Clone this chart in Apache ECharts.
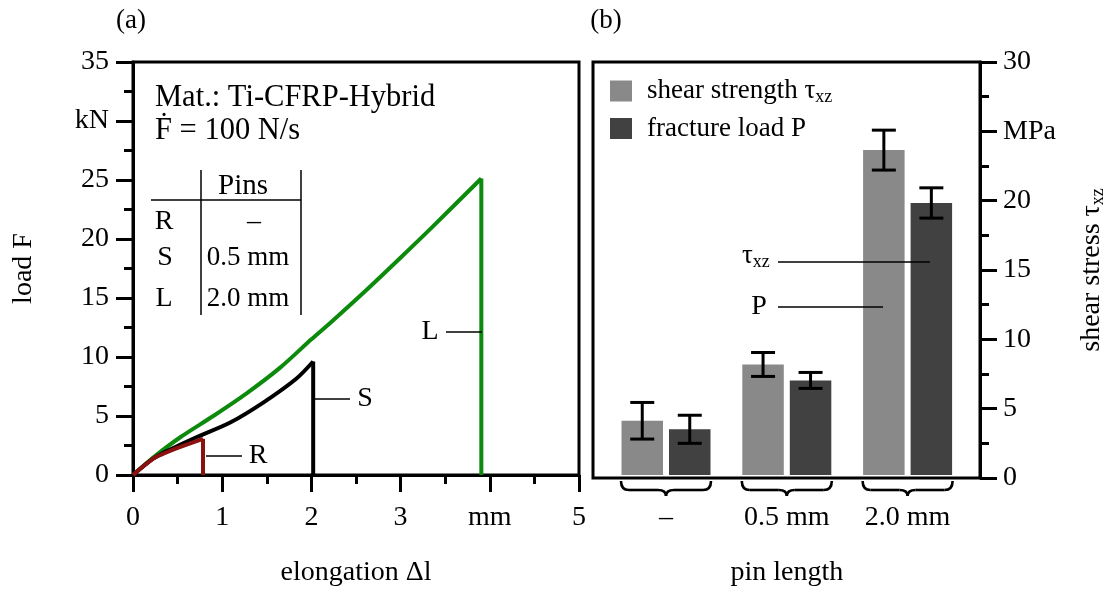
<!DOCTYPE html>
<html><head><meta charset="utf-8">
<script src="https://cdn.jsdelivr.net/npm/echarts@6/dist/echarts.min.js"></script>
<style>html,body{margin:0;padding:0;background:#fff}#c{width:1108px;height:592px}</style>
</head><body><div id="c"></div>
<script>
const FONT = 'Liberation Serif';
// ---- panel (a): load F [kN] vs elongation [mm]; last point of each curve = fracture drop
const curveL = [[0,0],[0.23,1.5],[0.53,3.2],[0.9,5.0],[1.27,6.9],[1.65,9.1],[2.0,11.5],[2.22,12.95],[2.62,15.7],[2.99,18.35],[3.36,21.05],[3.905,25.13],[3.905,0]];
const curveS = [[0,0],[0.23,1.4],[0.4,2.1],[0.71,3.2],[1.09,4.45],[1.46,6.14],[1.83,8.16],[2.02,9.62],[2.02,0]];
const curveR = [[0,0],[0.23,1.4],[0.34,1.8],[0.5,2.3],[0.785,3.07],[0.785,0]];
const xTickLabelsA = {4:'mm'};
const yTickLabelsA = {30:'kN'};
// ---- panel (b): bars
const categories = ['–','0.5 mm','2.0 mm'];
const shearStrength = [3.94, 8.03, 23.6];
const shearErr = [1.33, 0.87, 1.45];
const fractureLoad = [3.32, 6.87, 19.76];
const fractureErr = [1.02, 0.58, 1.1];
const yTickLabelsB = {25:'MPa'};

const BAR_W = 41.5, BAR_GAP = 6;
const txtBase = {fontFamily: FONT, fill: '#000'};

function txt(x, y, text, size, align, rich) {
  const st = Object.assign({}, txtBase, {text: text, fontSize: size, align: align || 'center', verticalAlign: 'middle'});
  if (rich) st.rich = rich;
  return {type: 'text', x: x, y: y, style: st, z: 100};
}
function ln(x1, y1, x2, y2, w) {
  return {type: 'line', shape: {x1, y1, x2, y2}, style: {stroke: '#000', lineWidth: w || 1.5}, z: 100};
}
const subRich = {
  a: {fontFamily: FONT, fontSize: 27, color: '#000', lineHeight: 26},
  s: {fontFamily: FONT, fontSize: 18, color: '#000', lineHeight: 16, padding: [12, 0, 0, 0]}
};

const axisCommon = {
  axisLine: {show: true, onZero: false, lineStyle: {color: '#000', width: 3}},
  axisTick: {show: true, inside: false, length: 17, lineStyle: {color: '#000', width: 3}},
  minorTick: {show: true, splitNumber: 2, length: 9, lineStyle: {color: '#000', width: 3}},
  splitLine: {show: false},
  minorSplitLine: {show: false}
};
const hiddenAxis = {
  show: false, axisLine: {show: false, onZero: false}, axisTick: {show: false}, minorTick: {show: false},
  axisLabel: {show: false}, splitLine: {show: false}, minorSplitLine: {show: false}
};

function errRender(side) {
  return function (params, api) {
    const i = api.value(0);
    const lo = api.coord([i, api.value(1)]);
    const hi = api.coord([i, api.value(2)]);
    const x = lo[0] + side * (BAR_W + BAR_GAP) / 2;
    const c = 12;
    const st = {stroke: '#000', lineWidth: 3};
    return {type: 'group', children: [
      {type: 'line', shape: {x1: x, y1: hi[1], x2: x, y2: lo[1]}, style: st},
      {type: 'line', shape: {x1: x - c, y1: hi[1], x2: x + c, y2: hi[1]}, style: st},
      {type: 'line', shape: {x1: x - c, y1: lo[1], x2: x + c, y2: lo[1]}, style: st}
    ]};
  };
}
function braceRender(params, api) {
  const p = api.coord([api.value(0), 0]);
  const cx = p[0], y0 = p[1] + 6, y1 = p[1] + 15, y2 = p[1] + 21;
  const hw = 45, r = 8;
  const xl = cx - hw, xr = cx + hw;
  const st = {stroke: '#000', lineWidth: 2.6, fill: null};
  return {type: 'group', children: [
    {type: 'bezierCurve', shape: {x1: xl, y1: y0, x2: xl + r, y2: y1, cpx1: xl, cpy1: y1}, style: st},
    {type: 'line', shape: {x1: xl + r, y1: y1, x2: cx - r, y2: y1}, style: st},
    {type: 'bezierCurve', shape: {x1: cx - r, y1: y1, x2: cx, y2: y2, cpx1: cx, cpy1: y1}, style: st},
    {type: 'bezierCurve', shape: {x1: cx, y1: y2, x2: cx + r, y2: y1, cpx1: cx, cpy1: y1}, style: st},
    {type: 'line', shape: {x1: cx + r, y1: y1, x2: xr - r, y2: y1}, style: st},
    {type: 'bezierCurve', shape: {x1: xr - r, y1: y1, x2: xr, y2: y0, cpx1: xr, cpy1: y1}, style: st}
  ]};
}

const labelStyle = {color: '#000', fontFamily: FONT, fontSize: 28};
const nameStyle = {color: '#000', fontFamily: FONT, fontSize: 28};

function curveSeries(name, data, color, z) {
  // smooth loading part + straight vertical fracture drop (both from the same array)
  const n = data.length;
  return [
    {name: name, type: 'line', xAxisIndex: 0, yAxisIndex: 0, data: data.slice(0, n - 1), smooth: 0.3,
      showSymbol: false, symbol: 'none', lineStyle: {color: color, width: 4, join: 'miter'}, z: z},
    {name: name + ' drop', type: 'line', xAxisIndex: 0, yAxisIndex: 0, data: data.slice(n - 2), smooth: false,
      showSymbol: false, symbol: 'none', lineStyle: {color: color, width: 4, join: 'miter'}, z: z}
  ];
}

const option = {
  animation: false,
  backgroundColor: '#fff',
  textStyle: {fontFamily: FONT},
  grid: [
    {left: 133, top: 62, width: 446, height: 416, show: true, borderColor: '#000', borderWidth: 3, backgroundColor: 'transparent'},
    {left: 593, top: 62, width: 387, height: 416, show: true, borderColor: '#000', borderWidth: 3, backgroundColor: 'transparent'},
    {left: 605.6, top: 62, width: 362.4, height: 416, show: false}
  ],
  xAxis: [
    Object.assign({}, axisCommon, {gridIndex: 0, type: 'value', min: 0, max: 5, interval: 1,
      name: 'elongation Δl', nameLocation: 'middle', nameGap: 84, nameTextStyle: nameStyle,
      axisLabel: Object.assign({}, labelStyle, {margin: 29, showMinLabel: true, showMaxLabel: true,
        formatter: v => (xTickLabelsA[v] !== undefined ? xTickLabelsA[v] : String(v))})}),
    Object.assign({}, hiddenAxis, {gridIndex: 1, type: 'value', min: 0, max: 1}),
    {gridIndex: 2, type: 'category', data: categories,
      name: 'pin length', nameLocation: 'middle', nameGap: 84, nameTextStyle: nameStyle,
      axisLine: {show: false, onZero: false}, axisTick: {show: false}, minorTick: {show: false}, splitLine: {show: false},
      axisLabel: Object.assign({}, labelStyle, {margin: 29, interval: 0})}
  ],
  yAxis: [
    Object.assign({}, axisCommon, {gridIndex: 0, type: 'value', min: 0, max: 35, interval: 5,
      name: 'load F', nameLocation: 'middle', nameGap: 95, nameRotate: 90, nameTextStyle: nameStyle,
      axisLabel: Object.assign({}, labelStyle, {margin: 24, showMinLabel: true, showMaxLabel: true,
        formatter: v => (yTickLabelsA[v] !== undefined ? yTickLabelsA[v] : String(v))})}),
    Object.assign({}, axisCommon, {gridIndex: 1, type: 'value', position: 'right', min: 0, max: 30, interval: 5,
      name: '{a|shear stress τ}{s|xz}', nameLocation: 'middle', nameGap: 99, nameRotate: 90,
      nameTextStyle: Object.assign({}, nameStyle, {rich: {
        a: {fontFamily: FONT, fontSize: 28, color: '#000', lineHeight: 26},
        s: {fontFamily: FONT, fontSize: 18, color: '#000', lineHeight: 16, padding: [12, 0, 0, 0]}}}),
      axisLabel: Object.assign({}, labelStyle, {margin: 23, showMinLabel: true, showMaxLabel: true,
        formatter: v => (yTickLabelsB[v] !== undefined ? yTickLabelsB[v] : String(v))})}),
    Object.assign({}, hiddenAxis, {gridIndex: 2, type: 'value', min: 0, max: 30})
  ],
  legend: {
    left: 605, top: 71, orient: 'vertical', icon: 'rect', itemWidth: 22, itemHeight: 21, itemGap: 9,
    data: ['shear strength', 'fracture load P'],
    formatter: n => (n === 'shear strength' ? '{a|shear strength τ}{s|xz}' : '{a|fracture load P}'),
    textStyle: {fontFamily: FONT, fontSize: 27, color: '#000', padding: [0, 0, 0, 10], rich: subRich},
    selectedMode: false
  },
  series: [].concat(
    curveSeries('L', curveL, '#0b8a0b', 3),
    curveSeries('S', curveS, '#000000', 4),
    curveSeries('R', curveR, '#8b1010', 5),
    [
    {name: 'shear strength', type: 'bar', xAxisIndex: 2, yAxisIndex: 2, data: shearStrength,
      barWidth: BAR_W, barGap: (BAR_GAP / BAR_W * 100) + '%', itemStyle: {color: '#898989'}},
    {name: 'fracture load P', type: 'bar', xAxisIndex: 2, yAxisIndex: 2, data: fractureLoad,
      barWidth: BAR_W, barGap: (BAR_GAP / BAR_W * 100) + '%', itemStyle: {color: '#414141'}},
    {type: 'custom', xAxisIndex: 2, yAxisIndex: 2, z: 10,
      data: categories.map((c, i) => [i, shearStrength[i] - shearErr[i], shearStrength[i] + shearErr[i]]),
      encode: {x: 0, y: [1, 2]}, renderItem: errRender(-1)},
    {type: 'custom', xAxisIndex: 2, yAxisIndex: 2, z: 10,
      data: categories.map((c, i) => [i, fractureLoad[i] - fractureErr[i], fractureLoad[i] + fractureErr[i]]),
      encode: {x: 0, y: [1, 2]}, renderItem: errRender(1)},
    {type: 'custom', xAxisIndex: 2, yAxisIndex: 2, z: 10, clip: false,
      data: categories.map((c, i) => [i, 0]), encode: {x: 0, y: 1}, renderItem: braceRender}
  ]),
  graphic: [
    txt(131, 21, '(a)', 27),
    txt(606, 21, '(b)', 27),
    txt(155, 98, 'Mat.: Ti-CFRP-Hybrid', 30.5, 'left'),
    txt(155, 131, 'Ḟ = 100 N/s', 30.5, 'left'),
    ln(201, 170, 201, 315), ln(301, 170, 301, 315), ln(151, 200, 301, 200),
    txt(243, 186, 'Pins', 29),
    txt(164, 222, 'R', 28), txt(254, 222, '–', 28),
    txt(165, 258, 'S', 28), txt(248, 258, '0.5 mm', 27),
    txt(164, 299, 'L', 28), txt(248, 299, '2.0 mm', 27),
    ln(206, 456, 242, 456), txt(258, 456, 'R', 28),
    ln(314, 399, 350, 399), txt(365, 399, 'S', 28),
    ln(446, 332, 482, 332), txt(430, 332, 'L', 28),
    ln(778, 262, 930, 262), txt(742, 256, '{a|τ}{s|xz}', 27, 'left', subRich),
    ln(778, 307, 883, 307), txt(759, 307, 'P', 28)
  ]
};
const chart = echarts.init(document.getElementById('c'));
chart.setOption(option);
</script></body></html>
